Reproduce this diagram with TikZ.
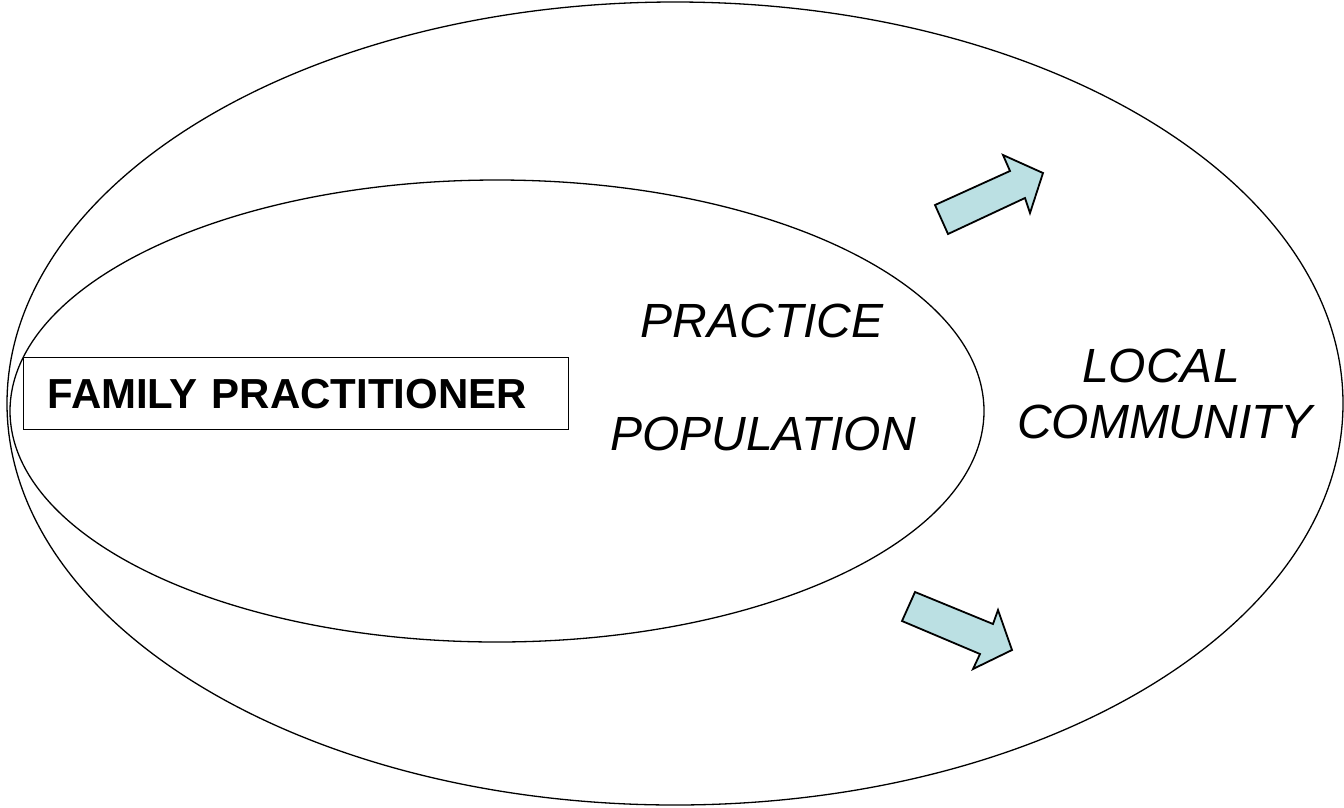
\documentclass[tikz,border=0pt]{standalone}
\usepackage{fontspec}
\setmainfont{Liberation Sans}
\definecolor{arrowfill}{RGB}{187,224,227}
\begin{document}
\begin{tikzpicture}[x=1pt,y=-1pt,
  ring/.style={draw=black,line width=1.3pt},
  fatarrow/.style={draw=black,fill=arrowfill,line width=1.8pt,line join=miter},
  label/.style={font=\fontsize{48}{50}\selectfont\itshape,inner sep=0pt,anchor=base},
  fpbox/.style={draw=black,line width=1.3pt,font=\fontsize{42}{44}\selectfont\bfseries,
    text width=497pt,inner xsep=24pt,inner ysep=0pt,minimum height=72pt,align=left,anchor=north west}]
\useasboundingbox (0,0) rectangle (1344,807);
\fill[white] (0,0) rectangle (1344,807);
% outer ellipse
\draw[ring] (675,403.5) ellipse [x radius=668, y radius=401.5];
% inner ellipse
\draw[ring] (497,411) ellipse [x radius=487, y radius=231];
% box
\node[fpbox] (fp) at (23,357) {FAMILY PRACTITIONER};
% labels
\node[label] (prac) at (762,337) {PRACTICE};
\node[label] (pop) at (763,450) {POPULATION};
\node[label] (loc) at (1161,382) {LOCAL};
\node[label] (com) at (1165,438) {COMMUNITY};
% arrows
\draw[fatarrow] (935,205) -- (948,234) -- (1025,198) -- (1030,213) -- (1043,173) -- (1003,155) -- (1010,171) -- cycle;
\draw[fatarrow] (915,592) -- (902,621) -- (980,654) -- (973,669) -- (1012,650) -- (998,610) -- (993,624) -- cycle;
\end{tikzpicture}
\end{document}
